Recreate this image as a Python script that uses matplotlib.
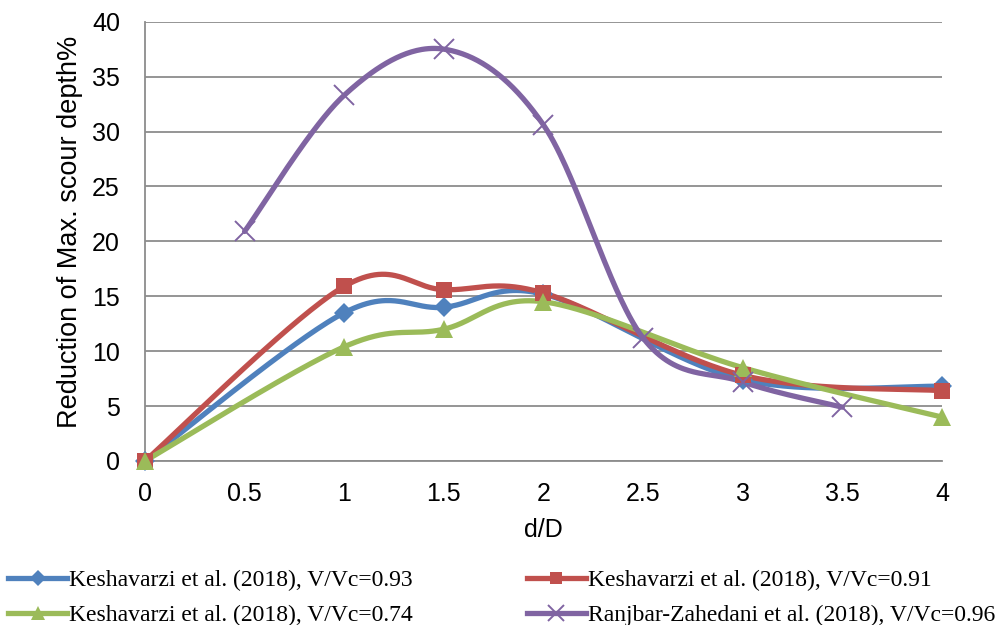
import numpy as np
import matplotlib
matplotlib.use("Agg")
import matplotlib.pyplot as plt
from matplotlib.lines import Line2D

# Measured reduction of maximum scour depth (%) against relative distance d/D
x_kesh = [0, 1, 1.5, 2, 3, 4]
y_093 = [0, 13.5, 14.0, 15.2, 7.4, 6.8]
y_091 = [0, 15.9, 15.6, 15.3, 7.8, 6.4]
y_074 = [0, 10.4, 12.0, 14.5, 8.5, 4.0]
x_ranj = [0.5, 1, 1.5, 2, 2.5, 3, 3.5]
y_096 = [20.9, 33.3, 37.5, 30.6, 11.2, 7.2, 4.9]

labels = [
    "Keshavarzi et al. (2018), V/Vc=0.93",
    "Keshavarzi et al. (2018), V/Vc=0.91",
    "Keshavarzi et al. (2018), V/Vc=0.74",
    "Ranjbar-Zahedani et al. (2018), V/Vc=0.96",
]
x_ticks = [0, 0.5, 1, 1.5, 2, 2.5, 3, 3.5, 4]
y_ticks = [0, 5, 10, 15, 20, 25, 30, 35, 40]


def smooth(xs, ys, n=60):
    """Catmull-Rom style Bezier smoothing through every point."""
    p = np.column_stack([xs, ys]).astype(float)
    out = [p[0]]
    t = np.linspace(0, 1, n)[1:, None]
    for i in range(len(p) - 1):
        p0 = p[i - 1] if i > 0 else p[i]
        p1, p2 = p[i], p[i + 1]
        p3 = p[i + 2] if i + 2 < len(p) else p[i + 1]
        c1 = p1 + (p2 - p0) / 6.0
        c2 = p2 - (p3 - p1) / 6.0
        seg = ((1 - t) ** 3) * p1 + 3 * ((1 - t) ** 2) * t * c1 \
            + 3 * (1 - t) * t ** 2 * c2 + t ** 3 * p2
        out.extend(seg)
    out = np.array(out)
    return out[:, 0], out[:, 1]


fig = plt.figure(figsize=(10.08, 6.25), dpi=100)
ax = fig.add_axes([0.1438, 0.2624, 0.7907, 0.7029])

series = [
    (x_kesh, y_093, "#4F81BD", "D", 10),
    (x_kesh, y_091, "#C0504D", "s", 11),
    (x_kesh, y_074, "#9BBB59", "^", 13),
    (x_ranj, y_096, "#8064A2", "x", 14),
]

handles = []
for (xs, ys, col, mk, ms), lab in zip(series, labels):
    sx, sy = smooth(xs, ys)
    ax.plot(sx, sy, color=col, lw=3.8, solid_capstyle="round", zorder=3,
            clip_on=False)
    ax.plot(xs, ys, linestyle="none", marker=mk, color=col, ms=ms,
            mew=1.4 if mk == "x" else 0, zorder=4, clip_on=False)
    handles.append(Line2D([], [], color=col, lw=3.8, marker=mk,
                          ms=ms * 0.8, mew=1.4 if mk == "x" else 0))

ax.set_xlim(0, 4)
ax.set_ylim(0, 40)
ax.set_xticks(x_ticks)
ax.set_xticklabels([f"{v:g}" for v in x_ticks])
ax.set_yticks(y_ticks)
ax.grid(axis="y", color="#8c8c8c", lw=1.3)
ax.set_axisbelow(True)
for s in ["top", "right"]:
    ax.spines[s].set_visible(False)
for s in ["left", "bottom"]:
    ax.spines[s].set_color("#8c8c8c")
    ax.spines[s].set_linewidth(1.3)
ax.tick_params(length=0, labelsize=18)
ax.tick_params(axis="y", pad=18)
ax.tick_params(axis="x", pad=15)
for lbl in ax.get_xticklabels() + ax.get_yticklabels():
    lbl.set_family("Liberation Sans")

ax.set_xlabel("d/D", fontsize=18, family="Liberation Sans", va="center")
ax.xaxis.set_label_coords(0.5, -0.157)
ax.set_ylabel("Reduction of Max. scour depth%", fontsize=19.5,
              family="Liberation Sans", va="center")
ax.yaxis.set_label_coords(-0.094, 0.522)

# legend filled row by row: two entries per row
order = [0, 2, 1, 3]
fig.legend([handles[i] for i in order], [labels[i] for i in order],
           loc="upper left", bbox_to_anchor=(0.008, 0.088),
           ncol=2, frameon=False, handlelength=2.5, handletextpad=0.1,
           columnspacing=4.8, labelspacing=0.55, borderpad=0,
           borderaxespad=0,
           prop={"family": "Liberation Serif", "size": 17})

fig.savefig("out.png", dpi=100)
